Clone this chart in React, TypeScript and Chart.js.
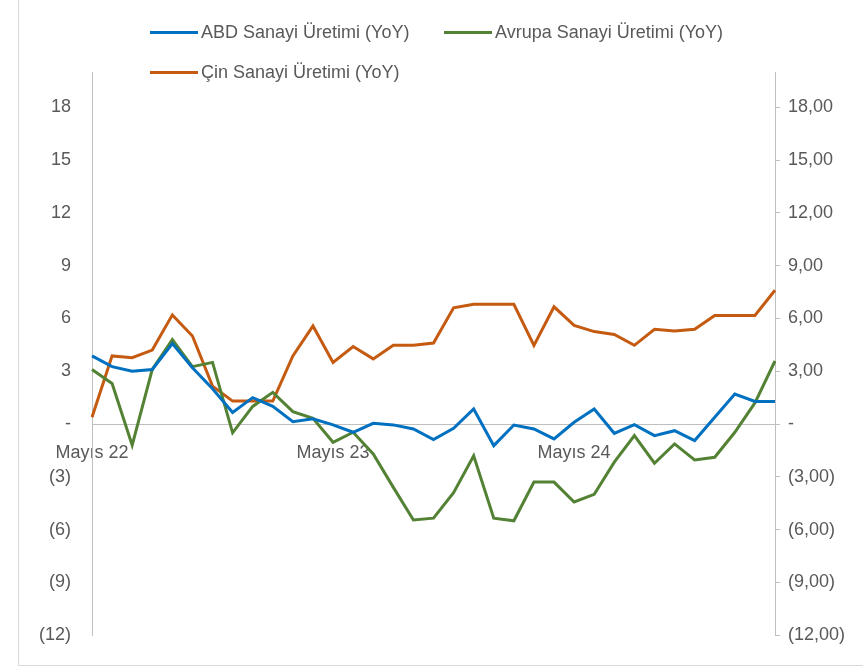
import React, { useEffect, useRef } from "react";
import { Chart, registerables } from "chart.js";

Chart.register(...registerables);

const categories = [
  "Mayıs 22", "Haziran 22", "Temmuz 22", "Ağustos 22", "Eylül 22", "Ekim 22", "Kasım 22", "Aralık 22",
  "Ocak 23", "Şubat 23", "Mart 23", "Nisan 23",
  "Mayıs 23", "Haziran 23", "Temmuz 23", "Ağustos 23", "Eylül 23", "Ekim 23", "Kasım 23", "Aralık 23",
  "Ocak 24", "Şubat 24", "Mart 24", "Nisan 24",
  "Mayıs 24", "Haziran 24", "Temmuz 24", "Ağustos 24", "Eylül 24", "Ekim 24", "Kasım 24", "Aralık 24",
  "Ocak 25", "Şubat 25", "Mart 25",
];

const abd = [
  3.87, 3.26, 3.0, 3.1, 4.57, 3.2, 2.0, 0.66, 1.5, 1.0,
  0.13, 0.3, -0.05, -0.47, 0.04, -0.05, -0.28, -0.89, -0.25, 0.85,
  -1.23, -0.06, -0.28, -0.85, 0.1, 0.85, -0.53, -0.04, -0.66, -0.38,
  -0.94, 0.38, 1.7, 1.28, 1.28,
];

const avrupa = [
  3.1, 2.3, -1.2, 3.1, 4.8, 3.26, 3.5, -0.5, 1.0, 1.8,
  0.7, 0.32, -1.04, -0.47, -1.7, -3.6, -5.45, -5.35, -3.9, -1.8,
  -5.35, -5.5, -3.3, -3.3, -4.43, -4.0, -2.17, -0.66, -2.23, -1.13,
  -2.04, -1.89, -0.47, 1.2, 3.58,
];

const cin = [
  0.38, 3.87, 3.77, 4.2, 6.2, 5.0, 2.15, 1.3, 1.3, 1.3,
  3.87, 5.57, 3.5, 4.4, 3.7, 4.47, 4.47, 4.6, 6.6, 6.8,
  6.8, 6.8, 4.47, 6.66, 5.6, 5.25, 5.09, 4.47, 5.38, 5.28,
  5.38, 6.17, 6.17, 6.17, 7.6,
];

const seriesNames = ["ABD Sanayi Üretimi (YoY)", "Avrupa Sanayi Üretimi (YoY)", "Çin Sanayi Üretimi (YoY)"];
const seriesColors = ["#0070C0", "#548235", "#C55A11"];

const yTicks = [-12, -9, -6, -3, 0, 3, 6, 9, 12, 15, 18];
const yMin = -12;
const yMax = 20;

const FONT = "'Liberation Sans', Arial, sans-serif";
const TEXT = "#595959";

function leftFmt(v: number) {
  if (v === 0) return "-";
  if (v < 0) return `(${-v})`;
  return `${v}`;
}
function rightFmt(v: number) {
  if (v === 0) return "-";
  const s = Math.abs(v).toFixed(2).replace(".", ",");
  return v < 0 ? `(${s})` : s;
}

export default function App() {
  const ref = useRef<HTMLCanvasElement | null>(null);

  useEffect(() => {
    if (!ref.current) return;
    const setTicks = (scale: any) => {
      scale.ticks = yTicks.map((v) => ({ value: v }));
    };
    const chart = new Chart(ref.current, {
      type: "line",
      data: {
        labels: categories,
        datasets: [abd, avrupa, cin].map((d, i) => ({
          label: seriesNames[i],
          data: d,
          borderColor: seriesColors[i],
          backgroundColor: seriesColors[i],
          borderWidth: 3,
          pointRadius: 0,
          tension: 0,
          yAxisID: "y",
        })),
      },
      options: {
        animation: false,
        responsive: false,
        maintainAspectRatio: false,
        layout: { padding: { left: 0, right: 0, top: 72, bottom: 30 } },
        plugins: { legend: { display: false }, tooltip: { enabled: false } },
        scales: {
          x: {
            type: "category",
            position: { y: 0 } as any,
            offset: false,
            grid: { display: false, drawTicks: false },
            border: { display: true, color: "#BFBFBF", width: 1 },
            ticks: {
              autoSkip: false,
              maxRotation: 0,
              minRotation: 0,
              padding: 18,
              color: TEXT,
              font: { family: FONT, size: 18 },
              callback: (_v: any, i: number) => (i % 12 === 0 ? categories[i] : ""),
            },
          },
          y: {
            position: "left",
            min: yMin,
            max: yMax,
            afterBuildTicks: setTicks,
            afterFit: (s: any) => { s.width = 92; },
            grid: { display: true, drawOnChartArea: false, drawTicks: false, color: "rgba(0,0,0,0)" },
            border: { display: true, color: "#BFBFBF", width: 1 },
            ticks: {
              padding: 21,
              color: TEXT,
              font: { family: FONT, size: 18 },
              callback: (v: any) => leftFmt(Number(v)),
            },
          },
          y1: {
            position: "right",
            min: yMin,
            max: yMax,
            afterBuildTicks: setTicks,
            afterFit: (s: any) => { s.width = 88; },
            grid: { display: true, drawOnChartArea: false, drawTicks: true, tickLength: 5, color: "#BFBFBF" },
            border: { display: true, color: "#BFBFBF", width: 1 },
            ticks: {
              padding: 8,
              color: TEXT,
              font: { family: FONT, size: 18 },
              callback: (v: any) => rightFmt(Number(v)),
            },
          },
        },
      },
    });
    return () => chart.destroy();
  }, []);

  const legendItem = (i: number, left: number, top: number) => (
    <div
      key={i}
      style={{
        position: "absolute",
        left,
        top,
        height: 24,
        display: "flex",
        alignItems: "center",
        fontFamily: FONT,
        fontSize: 18,
        color: TEXT,
        whiteSpace: "nowrap",
      }}
    >
      <span style={{ display: "inline-block", width: 48, height: 3, background: seriesColors[i], marginRight: 3 }} />
      <span>{seriesNames[i]}</span>
    </div>
  );

  return (
    <div style={{ position: "fixed", left: 0, top: 0, width: 863, height: 667, background: "#fff", overflow: "hidden" }}>
      <div
        style={{
          position: "absolute",
          left: 18,
          top: -4,
          width: 880,
          height: 670,
          border: "1px solid #D9D9D9",
          boxSizing: "border-box",
        }}
      />
      <canvas ref={ref} width={863} height={667} style={{ position: "absolute", left: 0, top: 0, width: 863, height: 667 }} />
      {legendItem(0, 150, 20)}
      {legendItem(1, 444, 20)}
      {legendItem(2, 150, 60)}
    </div>
  );
}
